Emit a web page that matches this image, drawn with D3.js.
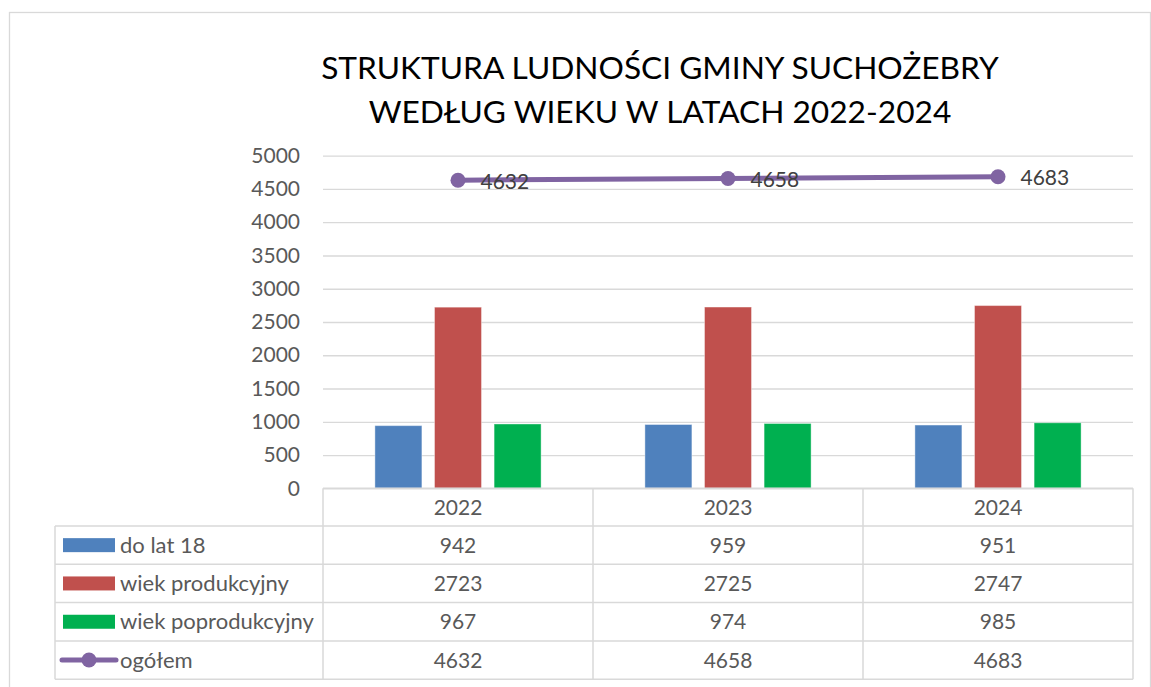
<!DOCTYPE html>
<html>
<head>
  <meta charset="utf-8">
  <script src="https://d3js.org/d3.v7.min.js"></script>
  <style>
    body { margin: 0; background: #fff; }
    svg { display: block; font-family: Lato, "Open Sans", sans-serif; }
  </style>
</head>
<body>
  <div id="chart"></div>
  <script>
    // data
    var years = ["2022", "2023", "2024"];
    var doLat18 = [942, 959, 951];
    var wiekProd = [2723, 2725, 2747];
    var wiekPoprod = [967, 974, 985];
    var ogolem = [4632, 4658, 4683];
    var yTicks = [0, 500, 1000, 1500, 2000, 2500, 3000, 3500, 4000, 4500, 5000];
    var titleLines = ["STRUKTURA LUDNOŚCI GMINY SUCHOŻEBRY", "WEDŁUG WIEKU W LATACH 2022-2024"];

    var barSeries = [
      { name: "do lat 18", values: doLat18, color: "#4F81BD" },
      { name: "wiek produkcyjny", values: wiekProd, color: "#C0504D" },
      { name: "wiek poprodukcyjny", values: wiekPoprod, color: "#00B050" }
    ];
    var lineSeries = { name: "ogółem", values: ogolem, color: "#8064A2" };

    var W = 1151, H = 687;
    var plot = { left: 323, right: 1133, top: 155.7, bottom: 488.3 };
    var grid = "#D9D9D9", textCol = "#595959";

    var svg = d3.select("#chart").append("svg")
      .attr("width", W).attr("height", H);

    // outer chart border
    svg.append("rect")
      .attr("x", 9.5).attr("y", 12.5)
      .attr("width", 1141).attr("height", 700)
      .attr("fill", "none").attr("stroke", grid).attr("stroke-width", 1.3);

    // title
    svg.append("g").selectAll("text")
      .data(titleLines).enter().append("text")
      .attr("x", 660)
      .attr("y", function(d, i) { return 79 + i * 44; })
      .attr("text-anchor", "middle")
      .attr("font-size", 31.7)
      .attr("fill", "#000")
      .text(function(d) { return d; });

    var x = d3.scaleBand().domain(years).range([plot.left, plot.right]);
    var y = d3.scaleLinear().domain([0, 5000]).range([plot.bottom, plot.top]);

    // gridlines + y labels
    var yAxis = svg.append("g")
      .attr("transform", "translate(" + plot.left + ",0)")
      .call(d3.axisLeft(y).tickValues(yTicks).tickSize(-(plot.right - plot.left)).tickPadding(23).tickFormat(d3.format("d")));
    yAxis.select(".domain").remove();
    yAxis.selectAll(".tick line").attr("stroke", grid).attr("stroke-width", 1.3);
    yAxis.selectAll(".tick text").attr("fill", textCol).attr("font-size", 21).attr("font-family", "Lato, sans-serif");

    // bars
    var barW = 47, barGap = 12.6;
    barSeries.forEach(function(s, si) {
      svg.append("g").selectAll("rect")
        .data(s.values).enter().append("rect")
        .attr("x", function(d, i) { return x(years[i]) + x.bandwidth() / 2 + (si - 1) * (barW + barGap) - barW / 2; })
        .attr("y", function(d) { return y(d); })
        .attr("width", barW)
        .attr("height", function(d) { return y(0) - y(d); })
        .attr("fill", s.color)
        .attr("stroke", "#fff").attr("stroke-opacity", 0.4).attr("stroke-width", 1);
    });

    // line
    var line = d3.line()
      .x(function(d, i) { return x(years[i]) + x.bandwidth() / 2; })
      .y(function(d) { return y(d); });
    svg.append("path")
      .datum(lineSeries.values)
      .attr("d", line)
      .attr("fill", "none").attr("stroke", lineSeries.color).attr("stroke-width", 5)
      .attr("stroke-linecap", "round");
    svg.append("g").selectAll("circle")
      .data(lineSeries.values).enter().append("circle")
      .attr("cx", function(d, i) { return x(years[i]) + x.bandwidth() / 2; })
      .attr("cy", function(d) { return y(d); })
      .attr("r", 7.5)
      .attr("fill", lineSeries.color);
    svg.append("g").selectAll("text")
      .data(lineSeries.values).enter().append("text")
      .attr("x", function(d, i) { return x(years[i]) + x.bandwidth() / 2 + 22.5; })
      .attr("y", function(d) { return y(d) + 8.5; })
      .attr("font-size", 21).attr("fill", "#404040")
      .text(function(d) { return d; });

    // data table
    var rowH = 38.3, headTop = plot.bottom, headH = 37.7;
    var tableBottom = headTop + headH + rowH * 4;
    var legLeft = 55;
    var tg = svg.append("g");
    var rows = barSeries.concat([lineSeries]);

    // horizontal lines
    tg.append("line")
      .attr("x1", plot.left).attr("x2", plot.right)
      .attr("y1", headTop).attr("y2", headTop);
    d3.range(5).forEach(function(r) {
      var yy = headTop + headH + r * rowH;
      tg.append("line").attr("x1", legLeft).attr("x2", plot.right).attr("y1", yy).attr("y2", yy);
    });
    // vertical lines
    tg.append("line").attr("x1", legLeft).attr("x2", legLeft).attr("y1", headTop + headH).attr("y2", tableBottom);
    years.forEach(function(yr) {
      tg.append("line").attr("x1", x(yr)).attr("x2", x(yr)).attr("y1", headTop).attr("y2", tableBottom);
    });
    tg.append("line").attr("x1", plot.right).attr("x2", plot.right).attr("y1", headTop).attr("y2", tableBottom);
    tg.selectAll("line").attr("stroke", grid).attr("stroke-width", 1.5);

    // header labels
    tg.selectAll("text.year")
      .data(years).enter().append("text")
      .attr("class", "year")
      .attr("x", function(d) { return x(d) + x.bandwidth() / 2; })
      .attr("y", headTop + headH / 2 + 7.5)
      .attr("text-anchor", "middle")
      .attr("font-size", 21).attr("fill", textCol)
      .text(function(d) { return d; });

    rows.forEach(function(s, r) {
      var cy = headTop + headH + r * rowH + rowH / 2;
      // legend key
      if (r < 3) {
        tg.append("rect")
          .attr("x", 63).attr("y", cy - 7).attr("width", 52).attr("height", 14)
          .attr("fill", s.color);
      } else {
        tg.append("line")
          .attr("x1", 62).attr("x2", 116).attr("y1", cy).attr("y2", cy)
          .attr("stroke", s.color).attr("stroke-width", 5).attr("stroke-linecap", "round");
        tg.append("circle").attr("cx", 89).attr("cy", cy).attr("r", 7.5).attr("fill", s.color);
      }
      tg.append("text")
        .attr("x", 120).attr("y", cy + 7.5)
        .attr("font-size", 22).attr("fill", textCol)
        .text(s.name);
      tg.append("g").selectAll("text")
        .data(s.values).enter().append("text")
        .attr("x", function(d, i) { return x(years[i]) + x.bandwidth() / 2; })
        .attr("y", cy + 7.5)
        .attr("text-anchor", "middle")
        .attr("font-size", 21).attr("fill", textCol)
        .text(function(d) { return d; });
    });
  </script>
</body>
</html>
